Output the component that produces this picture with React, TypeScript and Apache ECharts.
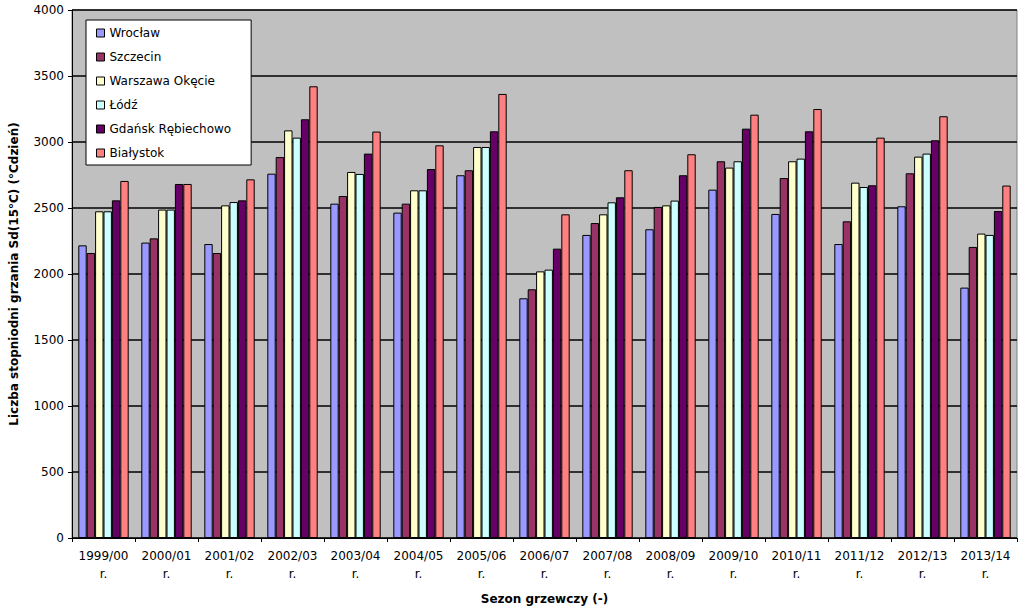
import React, { useEffect, useRef } from "react";
import * as echarts from "echarts";

const categories = [
  "1999/00 r.", "2000/01 r.", "2001/02 r.", "2002/03 r.", "2003/04 r.",
  "2004/05 r.", "2005/06 r.", "2006/07 r.", "2007/08 r.", "2008/09 r.",
  "2009/10 r.", "2010/11 r.", "2011/12 r.", "2012/13 r.", "2013/14 r.",
];

const seriesNames = [
  "Wrocław", "Szczecin", "Warszawa Okęcie", "Łódź", "Gdańsk Rębiechowo", "Białystok",
];

const wroclaw = [2217, 2238, 2227, 2760, 2533, 2465, 2748, 1816, 2296, 2339, 2639, 2455, 2227, 2513, 1897];
const szczecin = [2159, 2270, 2159, 2886, 2591, 2533, 2786, 1884, 2386, 2508, 2854, 2727, 2399, 2763, 2205];
const warszawa = [2475, 2488, 2520, 3088, 2773, 2634, 2962, 2020, 2452, 2520, 2806, 2854, 2692, 2889, 2306];
const lodz = [2475, 2488, 2545, 3033, 2758, 2634, 2962, 2033, 2543, 2556, 2854, 2874, 2659, 2912, 2296];
const gdansk = [2558, 2682, 2558, 3172, 2912, 2795, 3081, 2192, 2581, 2748, 3101, 3081, 2672, 3013, 2477];
const bialystok = [2705, 2682, 2717, 3422, 3079, 2975, 3364, 2452, 2786, 2907, 3207, 3250, 3033, 3195, 2670];

const seriesValues = [wroclaw, szczecin, warszawa, lodz, gdansk, bialystok];
const colors = ["#9999ff", "#993366", "#ffffcc", "#ccffff", "#660066", "#ff8080"];

const yTicks = { min: 0, max: 4000, interval: 500 };

export default function App() {
  const ref = useRef<HTMLDivElement>(null);
  useEffect(() => {
    if (!ref.current) return;
    const chart = echarts.init(ref.current, null, { renderer: "svg" });
    const font = "DejaVu Sans, sans-serif";
    chart.setOption({
      animation: false,
      backgroundColor: "#ffffff",
      textStyle: { fontFamily: font },
      grid: {
        left: 67,
        right: 7,
        top: 10,
        bottom: 78,
        show: true,
        backgroundColor: "#c0c0c0",
        borderColor: "#808080",
        borderWidth: 1,
      },
      legend: {
        orient: "vertical",
        left: 86,
        top: 20,
        width: 164,
        padding: [6, 20, 5, 10],
        itemGap: 10,
        itemWidth: 8,
        itemHeight: 8,
        icon: "rect",
        backgroundColor: "#ffffff",
        borderColor: "#000000",
        borderWidth: 1,
        borderRadius: 0,
        itemStyle: { borderColor: "#000000", borderWidth: 1 },
        textStyle: { fontFamily: font, fontSize: 12, color: "#000000", lineHeight: 14 },
        data: seriesNames,
      },
      xAxis: {
        type: "category",
        data: categories,
        name: "Sezon grzewczy (-)",
        nameLocation: "middle",
        nameGap: 55,
        nameTextStyle: { fontFamily: font, fontWeight: "bold", fontSize: 12, color: "#000" },
        axisLine: { show: true, lineStyle: { color: "#000", width: 1 } },
        axisTick: { show: true, length: 4, lineStyle: { color: "#000" } },
        axisLabel: {
          interval: 0,
          color: "#000",
          fontSize: 12,
          fontFamily: font,
          lineHeight: 18,
          margin: 9,
          formatter: (v: string) => v.replace(" ", "\n"),
        },
        splitLine: { show: false },
      },
      yAxis: {
        type: "value",
        min: yTicks.min,
        max: yTicks.max,
        interval: yTicks.interval,
        name: "Liczba stopniodni grzania Sd(15°C) (°Cdzień)",
        nameLocation: "middle",
        nameGap: 52,
        nameTextStyle: { fontFamily: font, fontWeight: "bold", fontSize: 12, color: "#000" },
        axisLine: { show: true, lineStyle: { color: "#000", width: 1 } },
        axisTick: { show: true, length: 4, lineStyle: { color: "#000" } },
        axisLabel: {
          color: "#000",
          fontSize: 12,
          fontFamily: font,
          margin: 8,
          formatter: (v: number) => String(v),
        },
        splitLine: { show: true, lineStyle: { color: "#000", width: 1.5 } },
      },
      series: seriesNames.map((name, i) => ({
        name,
        type: "bar",
        data: seriesValues[i],
        barGap: "0%",
        barCategoryGap: "20%",
        itemStyle: { color: colors[i], borderColor: "#000", borderWidth: 1 },
      })),
    });
    return () => chart.dispose();
  }, []);
  return (
    <div
      ref={ref}
      style={{ position: "fixed", left: 0, top: 0, width: 1024, height: 616 }}
    />
  );
}
